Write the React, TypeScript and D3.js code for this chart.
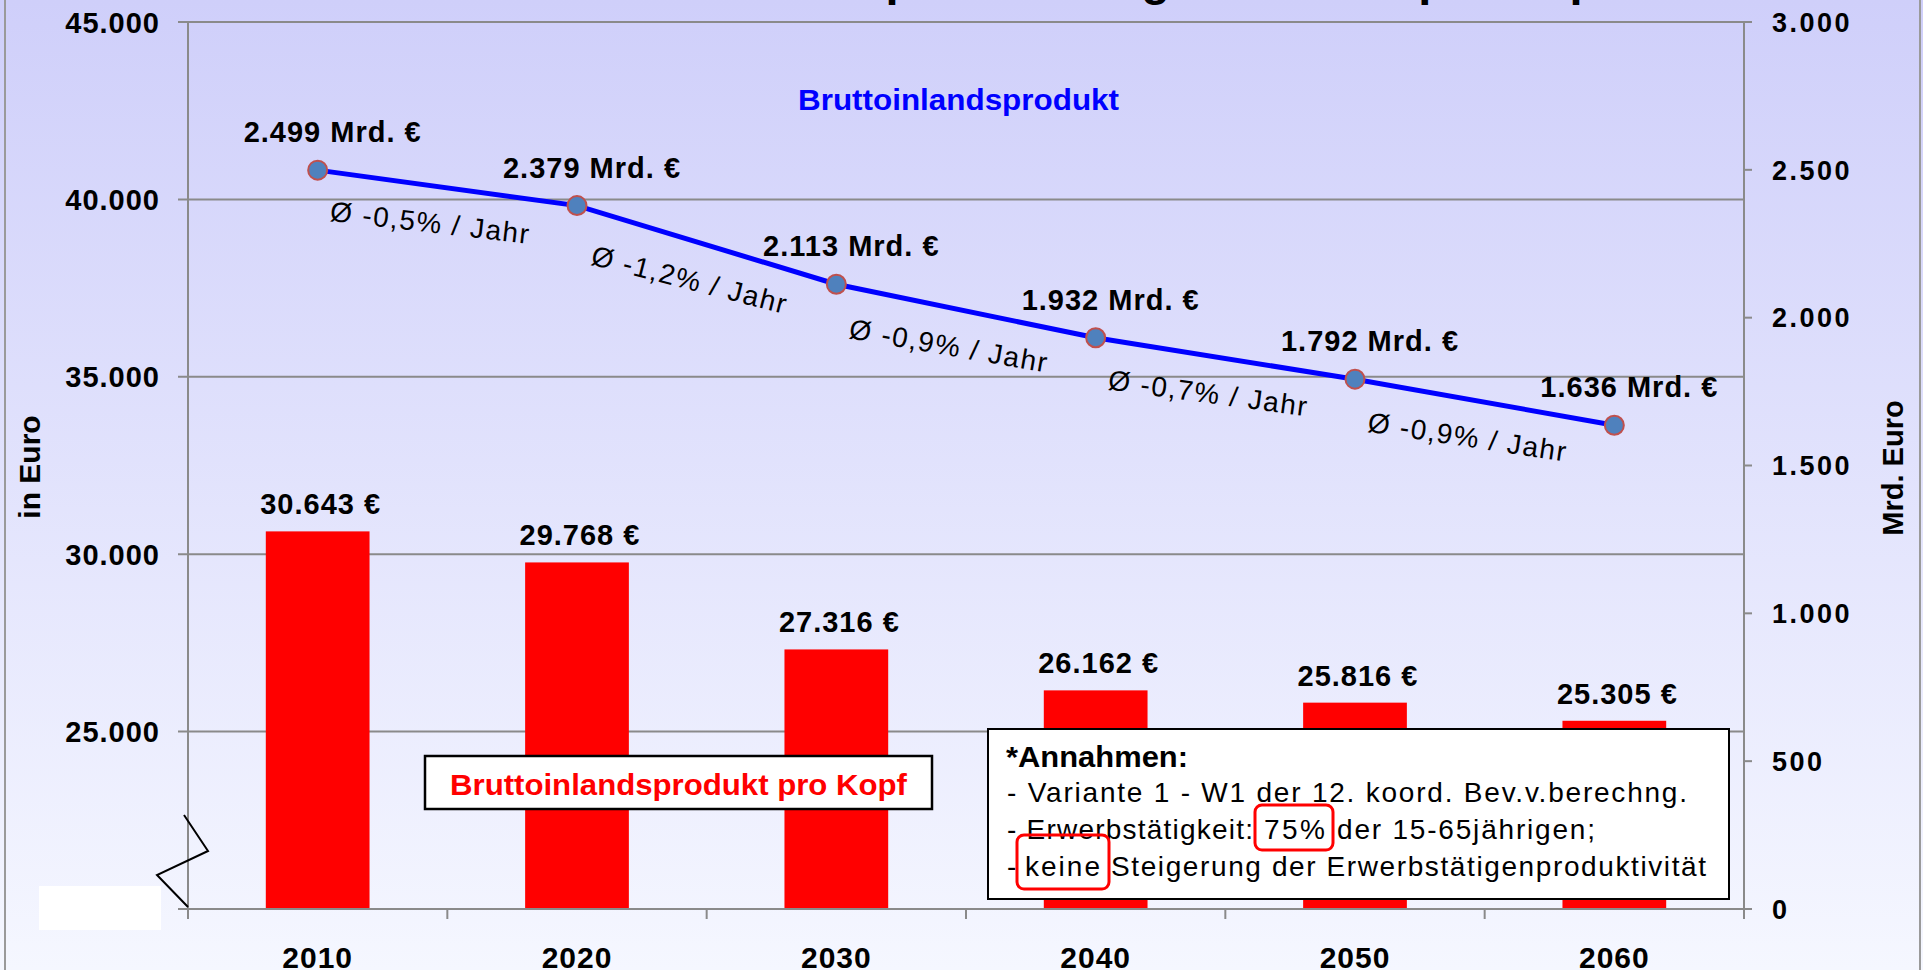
import React, { useEffect } from 'react';
import * as d3 from 'd3';

const years = ['2010', '2020', '2030', '2040', '2050', '2060'];
const gdpPerCapita = [30643, 29768, 27316, 26162, 25816, 25305];
const gdpTotal = [2499, 2379, 2113, 1932, 1792, 1636];
const growthLabels = ['Ø -0,5% / Jahr', 'Ø -1,2% / Jahr', 'Ø -0,9% / Jahr', 'Ø -0,7% / Jahr', 'Ø -0,9% / Jahr'];
const leftTicks = [25000, 30000, 35000, 40000, 45000];
const rightTicks = [0, 500, 1000, 1500, 2000, 2500, 3000];
const titleText = 'Bruttoinlandsprodukt insgesamt und pro Kopf';
const lineLabel = 'Bruttoinlandsprodukt';
const barLabel = 'Bruttoinlandsprodukt pro Kopf';
const leftAxisTitle = 'in Euro';
const rightAxisTitle = 'Mrd. Euro';
const noteTitle = '*Annahmen:';
const noteLine1 = '- Variante 1 - W1 der 12. koord. Bev.v.berechng.';
const noteLine2 = ['- Erwerbstätigkeit:', '75%', 'der 15-65jährigen;'];
const noteLine3 = ['-', 'keine', 'Steigerung der Erwerbstätigenproduktivität'];

const W = 1923;
const H = 970;
const FONT = "'Liberation Sans', Arial, Helvetica, sans-serif";
const plotLeft = 188;
const plotRight = 1744;
const plotTop = 22;
const plotBottom = 909;
const axisGray = '#8a8a8a';

const de = d3.formatLocale({ decimal: ',', thousands: '.', grouping: [3], currency: ['', ' €'] });
const fmt = de.format(',');

export default function App() {
  useEffect(() => {
    document.body.style.margin = '0';
    document.body.style.overflow = 'hidden';
  }, []);

  const x = d3.scaleBand<string>().domain(years).range([plotLeft, plotRight]).padding(0);
  const bw = x.bandwidth();
  const barW = bw * 0.4;
  const yL = d3.scaleLinear().domain([20000, 45000]).range([plotBottom, plotTop]);
  const yR = d3.scaleLinear().domain([0, 3000]).range([plotBottom, plotTop]);
  const cx = (y: string) => (x(y) as number) + bw / 2;

  const linePts: [number, number][] = years.map((yr, i) => [cx(yr), yR(gdpTotal[i])]);
  const linePath = d3.line()(linePts) as string;

  const boundaries = d3.range(years.length + 1).map((i) => plotLeft + i * bw);

  return (
    <svg width={W} height={H} style={{ position: 'absolute', left: 0, top: 0, display: 'block' }} fontFamily={FONT}>
      <defs>
        <linearGradient id="bg" x1="0" y1="0" x2="0" y2="1">
          <stop offset="0" stopColor="#cfcffa" />
          <stop offset="1" stopColor="#f5f7ff" />
        </linearGradient>
      </defs>
      <rect x={0} y={0} width={W} height={H} fill="url(#bg)" />
      <line x1={5} y1={0} x2={5} y2={H} stroke="#9a9a9a" strokeWidth={2} />
      <line x1={1920} y1={0} x2={1920} y2={H} stroke="#9a9a9a" strokeWidth={2} />

      {/* title (mostly cut off at the top) */}
      <text x={580} y={-5} fontSize={47} fontWeight="bold" fill="#000">{titleText}</text>

      {/* gridlines */}
      {leftTicks.map((t) => (
        <line key={'g' + t} x1={plotLeft - 10} x2={plotRight} y1={yL(t)} y2={yL(t)} stroke={axisGray} strokeWidth={2} />
      ))}

      {/* bars */}
      {years.map((yr, i) => (
        <rect key={'b' + yr} x={(x(yr) as number) + (bw - barW) / 2} y={yL(gdpPerCapita[i])}
          width={barW} height={plotBottom - yL(gdpPerCapita[i])} fill="#ff0000" />
      ))}

      {/* axes */}
      <line x1={plotLeft} x2={plotLeft} y1={plotTop} y2={plotBottom} stroke={axisGray} strokeWidth={2} />
      <line x1={plotRight} x2={plotRight} y1={plotTop} y2={plotBottom} stroke={axisGray} strokeWidth={2} />
      <line x1={plotLeft - 10} x2={plotRight} y1={plotBottom} y2={plotBottom} stroke={axisGray} strokeWidth={2} />
      {boundaries.map((b, i) => (
        <line key={'xt' + i} x1={b} x2={b} y1={plotBottom} y2={plotBottom + 10} stroke={axisGray} strokeWidth={2} />
      ))}
      {rightTicks.map((t) => (
        <line key={'rt' + t} x1={plotRight} x2={plotRight + 8} y1={yR(t)} y2={yR(t)} stroke={axisGray} strokeWidth={2} />
      ))}

      {/* left tick labels */}
      {leftTicks.map((t) => (
        <text key={'lt' + t} x={160} y={yL(t) + 10.5} textAnchor="end" fontSize={29} fontWeight="bold" letterSpacing={1}>
          {fmt(t)}
        </text>
      ))}
      {/* right tick labels */}
      {rightTicks.map((t) => (
        <text key={'rl' + t} x={1772} y={yR(t) + 9.7} fontSize={27} fontWeight="bold" letterSpacing={2.5}>
          {fmt(t)}
        </text>
      ))}
      {/* x labels */}
      {years.map((yr) => (
        <text key={'xl' + yr} x={cx(yr)} y={968} textAnchor="middle" fontSize={30} fontWeight="bold" letterSpacing={1}>
          {yr}
        </text>
      ))}

      {/* axis titles */}
      <text transform="translate(40,467) rotate(-90)" textAnchor="middle" fontSize={30} fontWeight="bold">{leftAxisTitle}</text>
      <text transform="translate(1903,468) rotate(-90)" textAnchor="middle" fontSize={29} fontWeight="bold">{rightAxisTitle}</text>

      {/* axis break */}
      <polyline points="184,815 208,851 157,875 188,907" fill="none" stroke="#000" strokeWidth={2} />
      <rect x={39} y={886} width={122} height={44} fill="#ffffff" />

      {/* bar value labels */}
      {years.map((yr, i) => (
        <text key={'bl' + yr} x={cx(yr) + 3} y={yL(gdpPerCapita[i]) - 17} textAnchor="middle" fontSize={29} fontWeight="bold" letterSpacing={1}>
          {fmt(gdpPerCapita[i]) + ' €'}
        </text>
      ))}

      {/* line */}
      <path d={linePath} fill="none" stroke="#0000ff" strokeWidth={5} />
      {linePts.map((p, i) => (
        <circle key={'pt' + i} cx={p[0]} cy={p[1]} r={9.5} fill="#4f81bd" stroke="#c0504d" strokeWidth={2} />
      ))}
      {linePts.map((p, i) => (
        <text key={'pl' + i} x={p[0] + 15} y={p[1] - 28} textAnchor="middle" fontSize={29} fontWeight="bold" letterSpacing={1}>
          {fmt(gdpTotal[i]) + ' Mrd. €'}
        </text>
      ))}
      {growthLabels.map((lbl, i) => {
        const [x1, y1] = linePts[i];
        const [x2, y2] = linePts[i + 1];
        const ang = (Math.atan2(y2 - y1, x2 - x1) * 180) / Math.PI * 0.85;
        const mx = (x1 + x2) / 2 - 17;
        const my = (y1 + y2) / 2 + 35;
        return (
          <text key={'gr' + i} transform={`translate(${mx},${my}) rotate(${ang})`} textAnchor="middle"
            dominantBaseline="central" fontSize={28} letterSpacing={1.5}>
            {lbl}
          </text>
        );
      })}

      {/* series labels */}
      <text x={798} y={110} fontSize={30} fontWeight="bold" fill="#0000ff" textLength={321} lengthAdjust="spacingAndGlyphs">{lineLabel}</text>
      <rect x={425} y={756} width={507} height={53} fill="#ffffff" stroke="#000" strokeWidth={2.5} />
      <text x={450} y={795} fontSize={30} fontWeight="bold" fill="#ff0000" textLength={457} lengthAdjust="spacingAndGlyphs">{barLabel}</text>

      {/* assumptions box */}
      <rect x={988} y={729} width={741} height={170} fill="#ffffff" stroke="#000" strokeWidth={2} />
      <text x={1006} y={767} fontSize={29} fontWeight="bold" textLength={182} lengthAdjust="spacingAndGlyphs">{noteTitle}</text>
      <text x={1007} y={802} fontSize={28} textLength={680} lengthAdjust="spacing">{noteLine1}</text>
      <text x={1007} y={839} fontSize={28} textLength={246} lengthAdjust="spacing">{noteLine2[0]}</text>
      <text x={1264} y={839} fontSize={28} textLength={61} lengthAdjust="spacing">{noteLine2[1]}</text>
      <text x={1337} y={839} fontSize={28} textLength={258} lengthAdjust="spacing">{noteLine2[2]}</text>
      <text x={1007} y={876} fontSize={28}>{noteLine3[0]}</text>
      <text x={1025} y={876} fontSize={28} textLength={75} lengthAdjust="spacing">{noteLine3[1]}</text>
      <text x={1111} y={876} fontSize={28} textLength={595} lengthAdjust="spacing">{noteLine3[2]}</text>
      <rect x={1255} y={805} width={78} height={45} rx={7} fill="none" stroke="#ff0000" strokeWidth={3} />
      <rect x={1017} y={835} width={92} height={54} rx={7} fill="none" stroke="#ff0000" strokeWidth={3} />
    </svg>
  );
}
